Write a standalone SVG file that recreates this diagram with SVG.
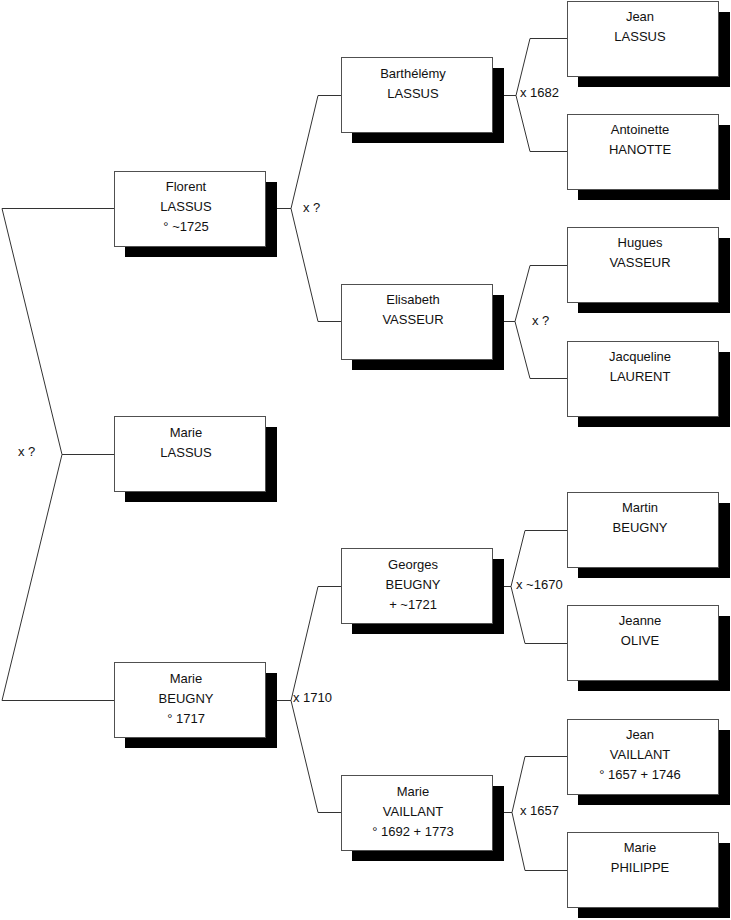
<svg xmlns="http://www.w3.org/2000/svg" width="731" height="920" viewBox="0 0 731 920">
<style>
.sh{fill:#000}
.bx{fill:#fff;stroke:#505050;stroke-width:1}
.t{font-family:"Liberation Sans",Arial,sans-serif;font-size:13px;fill:#111;text-anchor:middle}
.l{font-family:"Liberation Sans",Arial,sans-serif;font-size:13px;fill:#111}
.c{fill:none;stroke:#333;stroke-width:1}
</style>
<rect width="731" height="920" fill="#fff"/>
<g id="connectors">
<polyline class="c" points="114,208.5 2,208.5 62,454.5 2,700.5 114,700.5"/>
<line class="c" x1="62" y1="454.5" x2="114" y2="454.5"/>
<polyline class="c" points="341,95.5 318,95.5 291,208.5 318,321.5 341,321.5"/>
<line class="c" x1="266" y1="208.5" x2="291" y2="208.5"/>
<polyline class="c" points="341,586.5 318,586.5 291,700.5 318,812.5 341,812.5"/>
<line class="c" x1="266" y1="700.5" x2="291" y2="700.5"/>
<polyline class="c" points="567,38.5 530,38.5 516,95.5 530,151.5 567,151.5"/>
<line class="c" x1="492" y1="95.5" x2="516" y2="95.5"/>
<polyline class="c" points="567,265.5 530,265.5 515,321.5 530,378.5 567,378.5"/>
<line class="c" x1="492" y1="321.5" x2="515" y2="321.5"/>
<polyline class="c" points="567,530.5 525,530.5 511,586.5 525,643.5 567,643.5"/>
<line class="c" x1="492" y1="586.5" x2="511" y2="586.5"/>
<polyline class="c" points="567,756.5 525,756.5 512,812.5 525,870.5 567,870.5"/>
<line class="c" x1="492" y1="812.5" x2="512" y2="812.5"/>
<text class="l" x="18" y="456">x ?</text>
<text class="l" x="303" y="212">x ?</text>
<text class="l" x="293" y="702">x 1710</text>
<text class="l" x="520" y="97">x 1682</text>
<text class="l" x="532" y="325">x ?</text>
<text class="l" x="516" y="589">x ~1670</text>
<text class="l" x="520" y="815">x 1657</text>
</g>
<g id="florent"><rect class="sh" x="125" y="182" width="152" height="75"/><rect class="bx" x="114.5" y="171.5" width="151" height="75"/><text class="t" x="186" y="191">Florent</text><text class="t" x="186" y="211">LASSUS</text><text class="t" x="186" y="231">° ~1725</text></g>
<g id="marie-lassus"><rect class="sh" x="125" y="427" width="152" height="75"/><rect class="bx" x="114.5" y="416.5" width="151" height="75"/><text class="t" x="186" y="437">Marie</text><text class="t" x="186" y="457">LASSUS</text></g>
<g id="marie-beugny"><rect class="sh" x="125" y="673" width="152" height="75"/><rect class="bx" x="114.5" y="662.5" width="151" height="75"/><text class="t" x="186" y="683">Marie</text><text class="t" x="186" y="703">BEUGNY</text><text class="t" x="186" y="723">° 1717</text></g>
<g id="barthelemy"><rect class="sh" x="352" y="68" width="152" height="75"/><rect class="bx" x="341.5" y="57.5" width="151" height="75"/><text class="t" x="413" y="78">Barthélémy</text><text class="t" x="413" y="98">LASSUS</text></g>
<g id="elisabeth"><rect class="sh" x="352" y="295" width="152" height="75"/><rect class="bx" x="341.5" y="284.5" width="151" height="75"/><text class="t" x="413" y="304">Elisabeth</text><text class="t" x="413" y="324">VASSEUR</text></g>
<g id="georges"><rect class="sh" x="352" y="559" width="152" height="75"/><rect class="bx" x="341.5" y="548.5" width="151" height="75"/><text class="t" x="413" y="569">Georges</text><text class="t" x="413" y="589">BEUGNY</text><text class="t" x="413" y="609">+ ~1721</text></g>
<g id="marie-vaillant"><rect class="sh" x="352" y="786" width="152" height="75"/><rect class="bx" x="341.5" y="775.5" width="151" height="75"/><text class="t" x="413" y="796">Marie</text><text class="t" x="413" y="816">VAILLANT</text><text class="t" x="413" y="836">° 1692 + 1773</text></g>
<g id="jean-lassus"><rect class="sh" x="578" y="12" width="152" height="75"/><rect class="bx" x="567.5" y="1.5" width="151" height="75"/><text class="t" x="640" y="21">Jean</text><text class="t" x="640" y="41">LASSUS</text></g>
<g id="antoinette"><rect class="sh" x="578" y="125" width="152" height="75"/><rect class="bx" x="567.5" y="114.5" width="151" height="75"/><text class="t" x="640" y="134">Antoinette</text><text class="t" x="640" y="154">HANOTTE</text></g>
<g id="hugues"><rect class="sh" x="578" y="238" width="152" height="75"/><rect class="bx" x="567.5" y="227.5" width="151" height="75"/><text class="t" x="640" y="247">Hugues</text><text class="t" x="640" y="267">VASSEUR</text></g>
<g id="jacqueline"><rect class="sh" x="578" y="352" width="152" height="75"/><rect class="bx" x="567.5" y="341.5" width="151" height="75"/><text class="t" x="640" y="361">Jacqueline</text><text class="t" x="640" y="381">LAURENT</text></g>
<g id="martin"><rect class="sh" x="578" y="503" width="152" height="75"/><rect class="bx" x="567.5" y="492.5" width="151" height="75"/><text class="t" x="640" y="512">Martin</text><text class="t" x="640" y="532">BEUGNY</text></g>
<g id="jeanne"><rect class="sh" x="578" y="616" width="152" height="75"/><rect class="bx" x="567.5" y="605.5" width="151" height="75"/><text class="t" x="640" y="625">Jeanne</text><text class="t" x="640" y="645">OLIVE</text></g>
<g id="jean-vaillant"><rect class="sh" x="578" y="730" width="152" height="75"/><rect class="bx" x="567.5" y="719.5" width="151" height="75"/><text class="t" x="640" y="739">Jean</text><text class="t" x="640" y="759">VAILLANT</text><text class="t" x="640" y="779">° 1657 + 1746</text></g>
<g id="marie-philippe"><rect class="sh" x="578" y="843" width="152" height="75"/><rect class="bx" x="567.5" y="832.5" width="151" height="75"/><text class="t" x="640" y="852">Marie</text><text class="t" x="640" y="872">PHILIPPE</text></g>
</svg>
